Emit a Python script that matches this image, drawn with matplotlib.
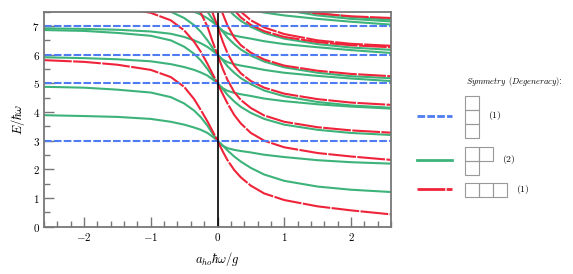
import numpy as np
import matplotlib
matplotlib.use('Agg')
import matplotlib.pyplot as plt
from matplotlib.patches import Rectangle
from matplotlib.ticker import MultipleLocator, FuncFormatter

plt.rcParams['mathtext.fontset'] = 'cm'
plt.rcParams['lines.scale_dashes'] = False

x_pts = [-2.6, -2.0, -1.5, -1.0, -0.7, -0.5, -0.35, -0.25, -0.15, -0.08, 0.0,
         0.08, 0.15, 0.25, 0.35, 0.5, 0.7, 1.0, 1.5, 2.0, 2.6]

# fully antisymmetric levels (flat)
blue_levels = [3, 5, 6, 7]

# fully symmetric states
r1 = [5.81, 5.75, 5.65, 5.47, 5.22, 4.88, 4.45, 4.07, 3.67, 3.36, 3.0,
      2.62, 2.32, 1.98, 1.72, 1.43, 1.16, 0.93, 0.71, 0.57, 0.43]
r2 = [7.85, 7.78, 7.66, 7.46, 7.2, 6.85, 6.45, 6.1, 5.68, 5.36, 5.0,
      4.62, 4.3, 3.9, 3.6, 3.27, 3.0, 2.77, 2.57, 2.45, 2.33]
r3 = [8.85, 8.8, 8.7, 8.5, 8.3, 8.05, 7.75, 7.45, 6.98, 6.5, 6.0,
      5.5, 5.12, 4.7, 4.42, 4.14, 3.88, 3.66, 3.47, 3.36, 3.28]
r4 = [9.9, 9.85, 9.75, 9.6, 9.4, 9.1, 8.8, 8.5, 8.0, 7.5, 7.0,
      6.45, 6.05, 5.62, 5.35, 5.08, 4.85, 4.64, 4.45, 4.33, 4.25]
r5 = [10.9, 10.85, 10.75, 10.6, 10.4, 10.1, 9.8, 9.5, 9.0, 8.5, 8.0,
      7.42, 7.02, 6.6, 6.33, 6.07, 5.83, 5.62, 5.44, 5.33, 5.25]
r6 = [11.9, 11.85, 11.75, 11.6, 11.4, 11.1, 10.8, 10.5, 10.0, 9.5, 9.0,
      8.4, 7.98, 7.56, 7.3, 7.04, 6.82, 6.62, 6.44, 6.33, 6.26]
r7 = [11.95, 11.9, 11.8, 11.7, 11.5, 11.2, 10.9, 10.6, 10.1, 9.6, 9.0,
      8.6, 8.2, 7.8, 7.5, 7.2, 6.95, 6.72, 6.5, 6.38, 6.31]
r8 = [12.9, 12.85, 12.75, 12.6, 12.4, 12.1, 11.8, 11.5, 11.0, 10.5, 10.0,
      9.4, 8.95, 8.55, 8.28, 8.02, 7.8, 7.6, 7.44, 7.34, 7.28]

# mixed symmetry states
g1 = [3.89, 3.86, 3.83, 3.76, 3.66, 3.56, 3.46, 3.38, 3.27, 3.15, 3.0,
      2.83, 2.66, 2.45, 2.27, 2.05, 1.82, 1.6, 1.4, 1.29, 1.21]
g2 = [4.88, 4.85, 4.78, 4.68, 4.52, 4.3, 4.05, 3.82, 3.52, 3.27, 3.0,
      2.82, 2.74, 2.68, 2.64, 2.59, 2.51, 2.43, 2.32, 2.25, 2.2]
g3 = [5.91, 5.88, 5.84, 5.77, 5.67, 5.57, 5.47, 5.38, 5.27, 5.15, 5.0,
      4.8, 4.6, 4.37, 4.18, 3.97, 3.76, 3.56, 3.38, 3.27, 3.2]
g4 = [6.86, 6.83, 6.76, 6.66, 6.5, 6.28, 6.03, 5.8, 5.5, 5.26, 5.0,
      4.83, 4.74, 4.67, 4.62, 4.56, 4.47, 4.38, 4.27, 4.19, 4.12]
g5 = [6.92, 6.9, 6.87, 6.81, 6.73, 6.62, 6.5, 6.4, 6.27, 6.15, 6.0,
      5.8, 5.6, 5.37, 5.18, 4.97, 4.75, 4.55, 4.35, 4.23, 4.15]
g6 = [7.86, 7.83, 7.76, 7.66, 7.5, 7.28, 7.03, 6.8, 6.5, 6.26, 6.0,
      5.83, 5.74, 5.67, 5.62, 5.56, 5.47, 5.37, 5.26, 5.17, 5.08]
g7 = [7.92, 7.9, 7.87, 7.81, 7.73, 7.62, 7.5, 7.4, 7.27, 7.15, 7.0,
      6.8, 6.6, 6.37, 6.18, 5.97, 5.76, 5.56, 5.37, 5.25, 5.18]
g8 = [8.86, 8.83, 8.76, 8.66, 8.5, 8.28, 8.03, 7.8, 7.5, 7.26, 7.0,
      6.83, 6.74, 6.67, 6.62, 6.56, 6.47, 6.37, 6.26, 6.16, 6.06]
g9 = [8.92, 8.9, 8.87, 8.81, 8.73, 8.62, 8.5, 8.4, 8.27, 8.15, 8.0,
      7.8, 7.6, 7.37, 7.18, 6.97, 6.76, 6.56, 6.37, 6.25, 6.17]
g10 = [9.86, 9.83, 9.76, 9.66, 9.5, 9.28, 9.03, 8.8, 8.5, 8.26, 8.0,
       7.83, 7.74, 7.67, 7.62, 7.56, 7.47, 7.37, 7.25, 7.15, 7.05]
g11 = [9.92, 9.9, 9.87, 9.81, 9.73, 9.62, 9.5, 9.4, 9.27, 9.15, 9.0,
       8.8, 8.6, 8.37, 8.18, 7.97, 7.76, 7.56, 7.37, 7.25, 7.16]
g12 = [10.9, 10.85, 10.8, 10.7, 10.6, 10.4, 10.2, 10.0, 9.6, 9.3, 9.0,
       8.85, 8.7, 8.5, 8.32, 8.1, 7.88, 7.66, 7.45, 7.32, 7.22]

red_curves = [r1, r2, r3, r4, r5, r6, r7, r8]
green_curves = [g1, g2, g3, g4, g5, g6, g7, g8, g9, g10, g11, g12]

# legend: young diagram row lengths and degeneracies
young_rows = [[1, 1, 1], [2, 1], [3]]
degeneracy = ['1', '2', '1']

blue_c = '#4f7cf2'
green_c = '#3db37a'
red_c = '#ef2339'
blue_ls = (0, (5.5, 1.6))
red_ls = (0, (20, 1.0))
lw = 1.5

fig = plt.figure(figsize=(5.73, 2.74), dpi=100)
ax = fig.add_axes([44 / 573, 1 - 226.7 / 274, 347 / 573, 215 / 274])

for e in green_curves:
    ax.plot(x_pts, e, color=green_c, lw=lw, solid_capstyle='butt')
for e in red_curves:
    ax.plot(x_pts, e, color=red_c, lw=lw, ls=red_ls)
for lev in blue_levels:
    ax.axhline(lev, color=blue_c, lw=lw, ls=blue_ls)
ax.axvline(0, color='black', lw=1.2)

ax.set_xlim(-2.6, 2.6)
ax.set_ylim(0, 7.5)
ax.xaxis.set_major_locator(MultipleLocator(1))
ax.xaxis.set_minor_locator(MultipleLocator(0.2))
ax.yaxis.set_major_locator(MultipleLocator(1))
ax.yaxis.set_minor_locator(MultipleLocator(0.5))
fmt = FuncFormatter(lambda v, p: r'$%d$' % round(v))
ax.xaxis.set_major_formatter(fmt)
ax.yaxis.set_major_formatter(fmt)
ax.tick_params(which='both', direction='in', color='#777777', width=1.0,
               labelsize=8, top=False, right=False)
ax.tick_params(which='major', length=7, pad=3)
ax.tick_params(which='minor', length=4)
for s in ax.spines.values():
    s.set_color('#777777')
    s.set_linewidth(1.3)
ax.set_xlabel(r'$a_{ho}\hbar\omega/g$', fontsize=9, labelpad=5)
ax.set_ylabel(r'$E/\hbar\omega$', fontsize=9, labelpad=4)

# legend drawn in pixel coordinates
lax = fig.add_axes([0, 0, 1, 1])
lax.set_xlim(0, 573)
lax.set_ylim(274, 0)
lax.axis('off')
lax.text(466, 82, r'$\mathit{Symmetry}\;\;\mathit{(Degeneracy)}$:', fontsize=6,
         va='center', ha='left')

styles = [dict(color=blue_c, ls=blue_ls), dict(color=green_c, ls='-'),
          dict(color=red_c, ls=red_ls)]
tops = [95.7, 146.7, 183.3]
box = 14
for rows, deg, top, st in zip(young_rows, degeneracy, tops, styles):
    h = box * len(rows)
    yc = top + h / 2
    lax.plot([416.7, 451.7], [yc - 1, yc - 1], lw=2, **st)
    for i, n in enumerate(rows):
        for j in range(n):
            lax.add_patch(Rectangle((465 + j * box, top + i * box), box, box,
                                    fill=False, ec='#999999', lw=0.8))
    lax.text(465 + max(rows) * box + 9, yc - 1, r'$\mathit{(%s)}$' % deg,
             fontsize=7, va='center', ha='left')

fig.savefig('out.png', dpi=100)
